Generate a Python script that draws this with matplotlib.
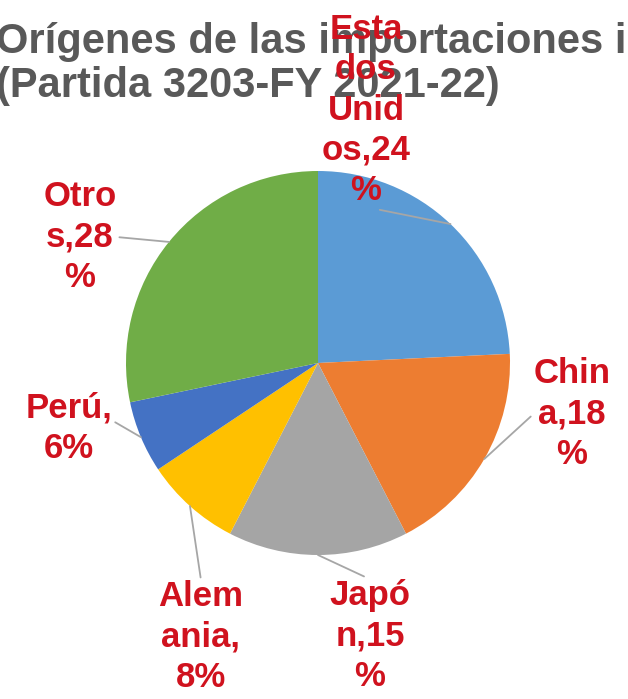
import matplotlib
matplotlib.use("Agg")
import matplotlib.pyplot as plt
import numpy as np

# Datos del gráfico
paises = ["Estados Unidos", "China", "Japón", "Alemania", "Perú", "Otros"]
porcentajes = [24, 18, 15, 8, 6, 28]
colores = ["#5B9BD5", "#ED7D31", "#A5A5A5", "#FFC000", "#4472C4", "#70AD47"]
# etiquetas tal como aparecen (cortadas en varias líneas)
etiquetas = ["Esta\ndos\nUnid\nos,24\n%", "Chin\na,18\n%", "Japó\nn,15\n%",
             "Alem\nania,\n8%", "Perú,\n6%", "Otro\ns,28\n%"]

titulo_1 = "Orígenes de las importaciones i"
titulo_2 = "(Partida 3203-FY 2021-22)"

plt.rcParams["font.family"] = ["Liberation Sans", "DejaVu Sans"]

W, H = 628, 699
fig = plt.figure(figsize=(W / 100, H / 100), dpi=100)

# pie: centro (318, 363) px, radio 192 px
cx, cy, r = 318, 363, 192
ax = fig.add_axes([(cx - r) / W, (H - cy - r) / H, 2 * r / W, 2 * r / H])
wedges, _ = ax.pie(porcentajes, colors=colores, startangle=90, counterclock=False,
                   radius=1, wedgeprops=dict(linewidth=0))
ax.set_xlim(-1, 1)
ax.set_ylim(-1, 1)
ax.set_aspect("equal")
ax.axis("off")

# título (queda por debajo de las etiquetas)
ax.text(-4 / W, 1 - 53 / H, titulo_1, transform=fig.transFigure, ha="left",
        va="baseline", fontsize=30, fontweight="bold", color="#595959", zorder=1)
ax.text(-4 / W, 1 - 97 / H, titulo_2, transform=fig.transFigure, ha="left",
        va="baseline", fontsize=30, fontweight="bold", color="#595959", zorder=1)

# posición de cada etiqueta (px, desde arriba) y punto de salida de la línea guía
pos_etq = [(366, 110), (572, 414), (370, 636), (201, 637), (69, 428), (80, 237)]
rel_pos = [(0.5, 0.0), (0.0, 0.5), (0.5, 1.0), (0.5, 1.0), (1.0, 0.6), (1.0, 0.5)]

for w, txt, (px, py), rp in zip(wedges, etiquetas, pos_etq, rel_pos):
    ang = np.deg2rad((w.theta1 + w.theta2) / 2)
    ax.annotate(txt, xy=(np.cos(ang), np.sin(ang)), xycoords="data",
                xytext=(px, H - py), textcoords="figure pixels",
                ha="center", va="center", fontsize=25, fontweight="bold",
                color="#D0121E", linespacing=1.28, zorder=5,
                arrowprops=dict(arrowstyle="-", color="#A6A6A6", lw=1.3,
                                shrinkA=0, shrinkB=0, relpos=rp))

fig.savefig("out.png", dpi=100)
